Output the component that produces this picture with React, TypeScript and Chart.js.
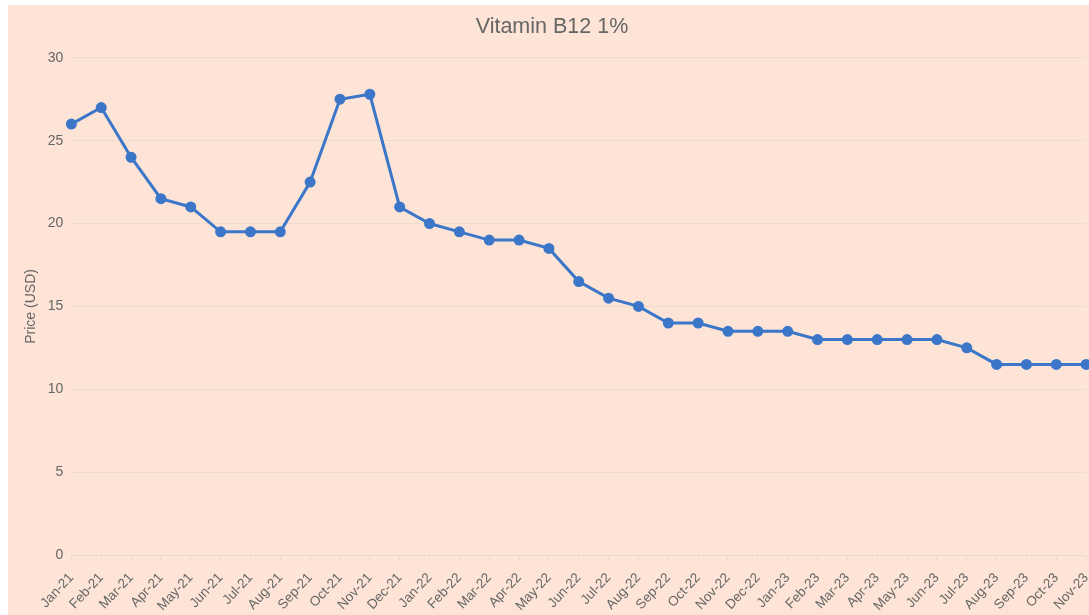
import React, { useEffect, useRef } from "react";
import { Chart, registerables } from "chart.js";

Chart.register(...registerables);

const categories = [
  "Jan-21", "Feb-21", "Mar-21", "Apr-21", "May-21", "Jun-21", "Jul-21", "Aug-21", "Sep-21", "Oct-21", "Nov-21", "Dec-21",
  "Jan-22", "Feb-22", "Mar-22", "Apr-22", "May-22", "Jun-22", "Jul-22", "Aug-22", "Sep-22", "Oct-22", "Nov-22", "Dec-22",
  "Jan-23", "Feb-23", "Mar-23", "Apr-23", "May-23", "Jun-23", "Jul-23", "Aug-23", "Sep-23", "Oct-23", "Nov-23",
];

const prices = [
  26, 27, 24, 21.5, 21, 19.5, 19.5, 19.5, 22.5, 27.5, 27.8, 21,
  20, 19.5, 19, 19, 18.5, 16.5, 15.5, 15, 14, 14, 13.5, 13.5,
  13.5, 13, 13, 13, 13, 13, 12.5, 11.5, 11.5, 11.5, 11.5,
];

const yTicks = [0, 5, 10, 15, 20, 25, 30];

const FONT = "Helvetica, Arial, 'Liberation Sans', sans-serif";

const bgPlugin = {
  id: "bgFill",
  beforeDraw(chart: any) {
    const { ctx, width, height } = chart;
    ctx.save();
    ctx.fillStyle = "#fde4d6";
    ctx.fillRect(0, 0, width, height);
    ctx.restore();
  },
};

export default function App() {
  const ref = useRef<HTMLCanvasElement | null>(null);
  useEffect(() => {
    if (!ref.current) return;
    const chart = new Chart(ref.current, {
      type: "line",
      data: {
        labels: categories,
        datasets: [
          {
            label: "Price",
            data: prices,
            borderColor: "#3b76c9",
            backgroundColor: "#3b76c9",
            borderWidth: 3,
            pointRadius: 4,
            pointHoverRadius: 4,
            tension: 0,
            clip: false as any,
          },
        ],
      },
      options: {
        animation: false,
        responsive: false,
        maintainAspectRatio: false,
        layout: { padding: { left: 0, right: 12, top: 4, bottom: -9 } },
        plugins: {
          legend: { display: false },
          tooltip: { enabled: false },
          title: {
            display: true,
            text: "Vitamin B12 1%",
            color: "#666666",
            font: { family: FONT, size: 21.5, weight: "normal" as any },
            padding: { top: 5, bottom: 18 },
          },
        },
        scales: {
          x: {
            offset: false,
            grid: { drawOnChartArea: false, drawTicks: true, tickLength: 5, color: "#eadbd0" },
            border: { display: true, color: "#eadbd0" },
            ticks: {
              color: "#666666",
              font: { family: FONT, size: 13.5 },
              maxRotation: 47,
              minRotation: 47,
              autoSkip: false,
              padding: 10,
            },
          },
          y: {
            min: 0,
            max: 30,
            afterBuildTicks(axis: any) {
              axis.ticks = yTicks.map((v) => ({ value: v }));
            },
            grid: { color: "#f0dccf", drawTicks: false },
            border: { display: false },
            ticks: {
              color: "#666666",
              font: { family: FONT, size: 14 },
              padding: 8,
            },
            title: {
              display: true,
              text: "Price (USD)",
              color: "#666666",
              font: { family: FONT, size: 14 },
              padding: { top: 15, bottom: 0 },
            },
          },
        },
      },
      plugins: [bgPlugin],
    });
    return () => chart.destroy();
  }, []);

  return (
    <div style={{ position: "fixed", left: 8, top: 5, width: 1100, height: 610, overflow: "hidden" }}>
      <canvas ref={ref} width={1100} height={610} style={{ display: "block", width: 1100, height: 610 }} />
    </div>
  );
}
